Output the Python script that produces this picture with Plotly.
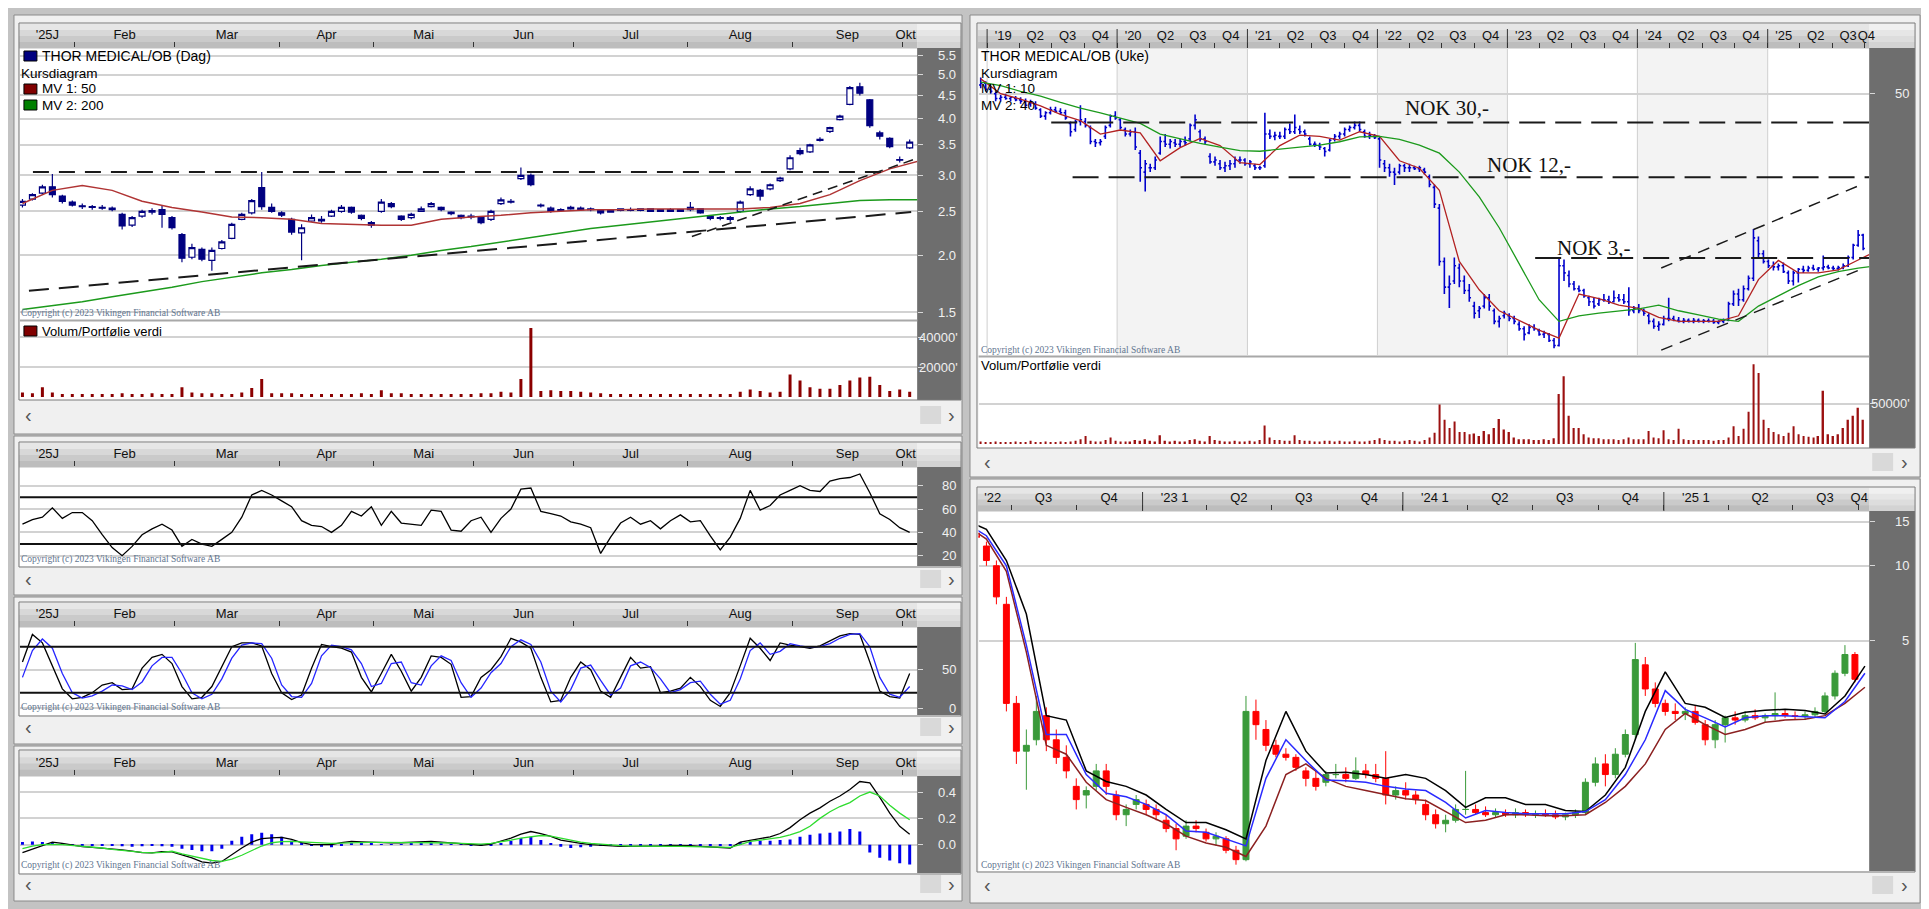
import math
import pandas as pd
import plotly.graph_objects as go

W, H = 1929, 909
SANS = "Liberation Sans"
SERIF = "Liberation Serif"

# ===================== DAILY CHART 2025 (one candle = two trading days) =====================
d_open = [2.58,2.66,2.74,2.83,2.70,2.62,2.57,2.56,2.55,2.54,
          2.46,2.33,2.44,2.49,2.52,2.42,2.22,1.98,2.06,1.95,
          2.07,2.18,2.40,2.48,2.82,2.55,2.48,2.40,2.24,2.38,
          2.40,2.44,2.50,2.55,2.45,2.36,2.50,2.60,2.44,2.42,
          2.50,2.56,2.55,2.49,2.45,2.44,2.42,2.40,2.60,2.62,
          2.95,3.00,2.58,2.54,2.51,2.53,2.54,2.52,2.52,2.49,
          2.51,2.52,2.51,2.53,2.50,2.52,2.50,2.52,2.53,2.44,
          2.42,2.40,2.50,2.72,2.78,2.80,2.92,3.10,3.40,3.38,
          3.58,3.75,3.98,4.30,4.70,4.40,3.72,3.62,3.25,3.45]
d_high = [2.66,2.74,2.86,3.02,2.72,2.64,2.60,2.58,2.58,2.56,
          2.48,2.44,2.52,2.54,2.58,2.44,2.24,2.12,2.08,2.08,
          2.16,2.36,2.48,2.66,3.05,2.60,2.50,2.42,2.34,2.46,
          2.44,2.52,2.58,2.56,2.46,2.38,2.66,2.62,2.45,2.48,
          2.56,2.62,2.56,2.50,2.46,2.47,2.43,2.52,2.68,2.66,
          3.12,3.03,2.60,2.56,2.54,2.57,2.56,2.55,2.53,2.52,
          2.54,2.55,2.54,2.54,2.53,2.54,2.53,2.62,2.54,2.45,
          2.44,2.44,2.64,2.84,2.80,2.88,2.98,3.32,3.45,3.52,
          3.64,3.84,4.08,4.72,4.80,4.42,3.76,3.64,3.30,3.60]
d_low = [2.55,2.64,2.72,2.68,2.60,2.56,2.53,2.52,2.52,2.50,
         2.28,2.31,2.42,2.46,2.30,2.28,1.93,1.96,1.94,1.85,
         2.06,2.17,2.39,2.46,2.52,2.48,2.43,2.22,1.95,2.37,
         2.36,2.43,2.48,2.47,2.39,2.30,2.48,2.54,2.38,2.40,
         2.49,2.55,2.50,2.45,2.40,2.40,2.34,2.38,2.58,2.60,
         2.93,2.84,2.55,2.48,2.50,2.52,2.51,2.50,2.46,2.48,
         2.50,2.50,2.50,2.49,2.49,2.49,2.49,2.50,2.47,2.39,
         2.39,2.37,2.48,2.70,2.64,2.78,2.90,3.08,3.32,3.36,
         3.56,3.72,3.96,4.28,4.50,3.82,3.60,3.44,3.20,3.43]
d_close = [2.63,2.72,2.83,2.72,2.63,2.58,2.56,2.55,2.54,2.52,
           2.32,2.42,2.50,2.51,2.46,2.30,1.97,2.08,1.96,2.05,
           2.14,2.34,2.46,2.64,2.56,2.50,2.45,2.25,2.30,2.42,
           2.38,2.50,2.55,2.49,2.41,2.33,2.62,2.56,2.40,2.46,
           2.53,2.60,2.52,2.47,2.42,2.43,2.36,2.50,2.65,2.63,
           3.00,2.86,2.57,2.50,2.52,2.55,2.52,2.53,2.48,2.51,
           2.53,2.51,2.53,2.50,2.52,2.50,2.52,2.55,2.48,2.41,
           2.41,2.42,2.62,2.80,2.70,2.86,2.96,3.28,3.35,3.50,
           3.60,3.82,4.05,4.68,4.55,3.86,3.66,3.47,3.24,3.55]
d_vol = [3,2.5,6.5,3,2,2,2,2,2,2,
         2.5,2,2,2.5,2,2,6.5,3,2.5,2.5,
         2,2,3,6,12,2.5,2.5,2.5,2,2,
         2,2,2,2,2.5,2,4.5,2.5,2.5,2,
         2,2,2,2,2,2,2.5,2.5,3.5,3,
         12,46,4,4.5,4,4,3.5,3,2.5,2,
         2,2,2,2,2,2,2,2,2,2,
         2,2,3.5,5,4,3,3.5,15,11,6.5,
         5.5,5.5,8,11,13,13.5,8,4,5,3.5]
d_ma50 = [2.60,2.78,2.85,2.78,2.63,2.55,2.49,2.43,2.42,2.40,
          2.35,2.34,2.33,2.33,2.40,2.43,2.45,2.48,2.50,2.52,
          2.52,2.53,2.53,2.53,2.53,2.55,2.60,2.72,2.92,3.10,3.23]
d_ma200 = [1.52,1.55,1.58,1.62,1.66,1.70,1.75,1.79,1.83,1.86,
           1.90,1.93,1.96,2.00,2.05,2.09,2.14,2.19,2.24,2.29,
           2.33,2.37,2.41,2.45,2.49,2.53,2.56,2.60,2.64,2.65,2.65]
d_rsi = [47,51,53,61,52,57,57,50,38,27,
         20,28,38,43,47,42,28,34,30,28,
         34,40,53,72,76,72,67,62,50,46,
         45,40,46,58,54,62,46,58,48,47,
         46,59,58,42,41,50,53,40,52,60,
         77,78,58,56,54,49,47,44,22,36,
         48,53,47,50,43,50,55,49,50,37,
         25,36,52,76,59,63,72,76,80,76,
         75,84,86,87,90,74,56,51,44,40]
d_stoch_k = [60,96,85,55,25,12,14,20,30,33,
             24,25,52,66,70,58,28,12,14,28,
             55,80,85,85,81,45,20,11,17,52,
             83,80,78,73,40,21,45,70,48,22,
             40,68,66,57,14,15,40,50,67,91,
             86,78,40,8,10,40,60,50,22,14,
             40,66,52,54,20,22,26,40,28,10,
             2,20,55,91,78,62,85,82,80,78,
             81,87,94,97,96,60,22,15,13,45]
d_stoch_d = [40,75,90,78,45,20,13,16,22,30,
             29,24,34,55,66,66,45,20,12,18,
             38,65,82,85,84,65,30,15,14,32,
             68,82,80,76,58,28,32,58,60,33,
             30,55,68,62,33,14,26,46,58,80,
             89,83,60,22,8,24,52,56,36,17,
             26,55,60,53,38,20,24,33,35,18,
             5,10,38,75,85,70,74,84,81,79,
             80,84,91,96,97,80,40,18,14,28]
d_macd = [-0.06,-0.035,-0.01,0.02,0.01,-0.005,-0.015,-0.02,-0.025,-0.03,
          -0.04,-0.048,-0.06,-0.062,-0.052,-0.054,-0.075,-0.10,-0.13,-0.14,
          -0.127,-0.075,-0.025,0.02,0.046,0.052,0.056,0.04,0.015,0.0,
          0.0,0.0,0.015,0.025,0.022,0.018,0.016,0.014,0.015,0.018,
          0.022,0.025,0.02,0.015,0.01,0.003,-0.004,0.005,0.025,0.05,
          0.08,0.10,0.085,0.063,0.035,0.02,0.01,0.0,-0.005,-0.012,
          -0.013,-0.013,-0.013,-0.012,-0.01,-0.006,-0.006,-0.008,-0.012,-0.015,
          -0.02,-0.025,0.02,0.035,0.045,0.06,0.085,0.13,0.19,0.24,
          0.28,0.33,0.37,0.42,0.48,0.47,0.36,0.24,0.14,0.08]
d_macd_signal = [-0.03,-0.01,0.0,0.003,0.0,-0.005,-0.01,-0.017,-0.025,-0.035,
                 -0.045,-0.05,-0.058,-0.062,-0.058,-0.05,-0.07,-0.085,-0.105,-0.12,
                 -0.127,-0.11,-0.08,-0.045,-0.01,0.015,0.024,0.025,0.02,0.015,
                 0.01,0.01,0.012,0.015,0.017,0.018,0.018,0.018,0.018,0.018,
                 0.018,0.018,0.016,0.013,0.01,0.007,0.005,0.01,0.02,0.035,
                 0.05,0.062,0.07,0.065,0.05,0.03,0.02,0.01,0.003,-0.003,
                 -0.007,-0.01,-0.012,-0.013,-0.013,-0.013,-0.013,-0.014,-0.015,-0.016,
                 -0.018,-0.02,0.0,0.025,0.035,0.045,0.055,0.075,0.10,0.14,
                 0.20,0.25,0.29,0.32,0.37,0.40,0.37,0.30,0.24,0.19]
d_macd_hist = [0.02,0.025,0.02,0.015,0.01,0.005,-0.005,-0.008,-0.01,-0.01,
               -0.012,-0.015,-0.012,-0.01,-0.012,-0.015,-0.03,-0.04,-0.05,-0.05,
               -0.03,0.03,0.06,0.08,0.09,0.08,0.06,0.03,0.01,-0.01,
               -0.015,-0.02,-0.01,0.01,0.012,0.008,0.005,0.004,0.005,0.006,
               0.008,0.01,0.006,0.003,0.002,-0.004,-0.008,-0.01,0.01,0.03,
               0.05,0.06,0.035,0.01,-0.015,-0.025,-0.02,-0.015,-0.01,-0.008,
               -0.006,-0.005,-0.004,-0.004,-0.004,-0.004,-0.004,-0.004,-0.004,-0.005,
               -0.006,-0.008,0.02,0.025,0.03,0.03,0.035,0.04,0.06,0.075,
               0.085,0.09,0.10,0.12,0.10,-0.06,-0.10,-0.12,-0.14,-0.15]

month_names = ["'25J", "Feb", "Mar", "Apr", "Mai", "Jun", "Jul", "Aug", "Sep", "Okt"]
month_starts = [5.25, 15.25, 25.75, 35.25, 45.25, 55.25, 66.75, 77.25, 88.25]

d_price_ticks = [1.5, 2.0, 2.5, 3.0, 3.5, 4.0, 4.5, 5.0, 5.5]
d_price_labels = ["1.5", "2.0", "2.5", "3.0", "3.5", "4.0", "4.5", "5.0", "5.5"]
d_vol_ticks = [20, 40]
d_vol_labels = ["20000'", "40000'"]
rsi_ticks = [20, 40, 60, 80]
rsi_labels = ["20", "40", "60", "80"]
rsi_levels = [30, 70]
stoch_ticks = [0, 50]
stoch_labels = ["0", "50"]
stoch_levels = [20, 80]
macd_ticks = [0.0, 0.2, 0.4]
macd_labels = ["0.0", "0.2", "0.4"]

trend_resist_x, trend_resist_y = [1.05, 89.75], [3.05, 3.05]
trend_support_x, trend_support_y = [0.65, 89.15], [1.67, 2.49]
trend_steep_x, trend_steep_y = [67.15, 89.75], [2.20, 3.27]

# ===================== WEEKLY DATA (one bar = two weeks, from 2018-12-14) =====================
w_open = [58,60,54,50,46,47,46,46,45,44,
          42,42,38,34,36,38,37,36,30,27,
          31,31,28,22,21.5,24,29,34,32,27,
          25,26,18,13,14,14,18,22,21,21.5,
          21,22,23,29,26,23,17,15.5,15,14,
          14.5,15,16,16,15,14.5,14,14.5,25,24,
          24,24,27,26,27,26,23,21,20.5,19.5,
          19,23,24,25,27,28,29,26,24,24,
          23,15,14,13,13,14.5,14,14,13.8,13.5,
          12,10,7,2.8,1.8,2.0,2.5,2.0,1.7,1.3,
          1.2,1.3,1.5,1.2,1.0,1.1,1.1,1.05,0.95,0.88,
          0.82,0.9,0.85,0.8,0.8,0.72,0.66,2.6,2.2,1.9,
          1.75,1.7,1.5,1.4,1.35,1.45,1.45,1.4,1.5,1.45,
          1.4,1.2,1.25,1.2,1.1,1.0,0.92,0.95,1.05,1.05,
          1.02,1.0,1.02,1.0,1.02,1.0,1.01,1.0,0.98,1.0,
          1.02,1.35,1.6,1.45,1.75,2.1,4.0,3.2,2.8,2.6,
          2.55,2.6,2.3,2.0,2.3,2.45,2.4,2.5,2.45,2.5,
          2.55,2.5,2.48,2.52,2.6,3.0,3.7,4.4]
w_high = [66,62,56,52,49,50,48,48,47,46,
          45,44,39,37,40,40,39,38,31,32,
          41,33,29,23,23,29,35,37,33,28,
          27,28,19,16,15,17,24,25,23,23,
          23,24,30,35,27,24,18,17,16,15.5,
          16,17,17,16.5,16,15,14.5,36,27,26,
          26,28,30,35,29,27,24,22,21.5,20,
          23,25,26,28,29,31,31,27,26,25,
          24,16,15,14,15,15,15,14.5,14.5,14,
          12.5,10.5,7.5,3.0,2.2,3.0,2.7,2.2,1.9,1.4,
          1.3,1.6,1.6,1.25,1.1,1.2,1.15,1.1,1.0,0.92,
          0.95,0.95,0.88,0.85,0.82,0.75,3.0,2.9,2.4,2.0,
          1.85,1.75,1.55,1.5,1.5,1.6,1.55,1.7,1.6,1.6,
          1.8,1.3,1.35,1.25,1.15,1.05,1.0,1.1,1.5,1.1,
          1.08,1.06,1.05,1.06,1.05,1.04,1.05,1.04,1.02,1.05,
          1.4,1.7,1.75,1.85,2.2,4.9,4.3,3.4,2.9,2.8,
          2.7,2.75,2.4,2.4,2.5,2.6,2.6,2.65,2.55,3.1,
          2.65,2.6,2.6,2.7,3.1,3.8,4.8,4.5]
w_low = [55,52,50,44,44,45,44,44,42,40,
         40,38,33,32,35,36,35,32,24,26,
         29,28,21,20,20.5,23,28,32,27,24,
         24,19,11,9.3,13,13.5,17.5,20,19.5,20,
         20,20.5,22,27,22,21,15,14.5,13.5,13,
         13.5,14,15,14.5,14,13.5,13.5,14,23,22.5,
         23,23,25,25,25,24,20.5,20,19,17,
         18.5,22,23,24,26,27,26,23.5,23,23,
         14,13,12,10.4,12.5,13,13,13.5,13,12.5,
         10,7,2.6,1.6,1.26,1.9,1.8,1.6,1.4,1.05,
         1.06,1.25,1.2,0.95,0.9,1.05,1.0,0.95,0.85,0.72,
         0.8,0.85,0.78,0.75,0.7,0.63,0.65,2.0,1.8,1.7,
         1.65,1.5,1.3,1.25,1.3,1.4,1.35,1.38,1.4,1.35,
         1.1,1.15,1.15,1.1,0.95,0.88,0.85,0.93,1.0,1.0,
         0.98,0.97,0.98,0.97,0.98,0.97,0.98,0.96,0.95,0.97,
         1.0,1.3,1.3,1.4,1.7,2.0,3.0,2.7,2.5,2.4,
         2.4,2.3,1.9,1.85,1.95,2.3,2.35,2.4,2.35,2.4,
         2.45,2.42,2.4,2.45,2.55,2.9,3.6,3.4]
w_close = [60,54,52,46,47,46,47,45,44,41,
           43,39,34,36,38,37,36,33,26,31,
           32,29,22,21.5,22,28,34,33,28,25,
           26,20,14,15,14,16,22,21,22,21,
           22,21.5,29,32,23,22,15.5,16,14,14.5,
           15,16,16,15,15.5,14,14,25,24,24.5,
           24,27,26,28,26,25,21,21,20,18.5,
           22.5,24,25,27,28,29,27,24,24.5,23.5,
           16,14,13,12.5,14.5,14,14,13.8,14,13,
           10.5,7.5,2.8,1.8,1.9,2.6,2.0,1.7,1.5,1.15,
           1.25,1.5,1.3,1.0,1.05,1.15,1.05,1.0,0.88,0.8,
           0.9,0.88,0.8,0.82,0.72,0.66,2.6,2.3,1.9,1.75,
           1.7,1.55,1.4,1.3,1.45,1.45,1.4,1.5,1.45,1.4,
           1.2,1.25,1.2,1.15,1.0,0.92,0.95,1.05,1.05,1.02,
           1.0,1.02,1.0,1.02,1.0,1.01,1.0,0.98,1.0,1.02,
           1.35,1.6,1.45,1.75,2.1,4.2,3.2,2.8,2.6,2.55,
           2.6,2.35,2.0,2.3,2.45,2.4,2.5,2.45,2.5,2.55,
           2.5,2.48,2.52,2.6,3.0,3.7,4.4,3.5]
w_vol = [3,2,2,3,2,2,2,3,2,2,
         4,2,2,3,2,2,3,2,3,4,
         6,10,4,3,3,5,8,4,3,3,
         3,5,4,6,4,3,11,4,3,4,
         3,3,5,6,4,3,10,5,4,3,
         3,4,3,3,4,3,5,23,8,5,
         5,4,4,11,5,4,4,3,3,4,
         4,3,4,3,3,4,3,3,4,5,
         7,5,4,4,3,4,5,4,3,5,
         8,14,49,30,20,28,15,15,12,13,
         10,16,12,20,31,18,15,8,6,6,
         6,5,5,6,5,7,62,84,35,20,
         20,12,8,7,7,6,6,6,5,6,
         8,6,6,6,16,8,7,17,6,5,
         19,6,5,5,5,5,5,4,5,5,
         8,22,10,19,40,99,88,30,20,15,
         12,10,14,22,12,10,9,8,10,66,
         12,10,12,20,30,35,45,30]
w_ma10 = [64.5,50,45.5,40.6,35,31.5,25,26.8,25.5,15.8,
          19.8,23.2,20.5,15.3,14.8,20.5,24.5,24,22.5,26,
          24,15.8,13.9,9.5,2.8,1.72,1.2,1.02,0.86,0.75,
          1.6,1.48,1.32,1.25,1.07,1.0,1.0,1.0,1.1,2.05,
          2.85,2.3,2.3,2.42,2.87,3.4]
w_ma40 = [61,57.5,52,48,43,39,36,33,30,25,
          23,21.3,20,18.8,18.6,19.2,20,20.7,21.9,23.8,
          24,22.8,20.7,18,13,8.5,5,2.7,1.45,1.0,
          1.1,1.15,1.2,1.24,1.32,1.2,1.12,1.04,1.0,1.3,
          1.55,1.85,2.15,2.35,2.5,2.6]
nok_levels = [30.5, 11.9, 2.97]
nok_labels = ["NOK 30,-", "NOK 12,-", "NOK 3,-"]
nok_from = ["2019-06-30", "2019-08-29", "2023-03-20"]
nok_to = "2025-10-13"
chan_dates = ["2024-03-08", "2025-09-29"]
chan_upper = [2.5, 10.7]
chan_lower = [0.61, 2.5]
w_q_labels = ["'19","Q2","Q3","Q4","'20","Q2","Q3","Q4","'21","Q2","Q3","Q4",
              "'22","Q2","Q3","Q4","'23","Q2","Q3","Q4","'24","Q2","Q3","Q4",
              "'25","Q2","Q3","Q4"]
w_price_ticks, w_price_labels = [50], ["50"]
w_vol_ticks, w_vol_labels = [50], ["50000'"]

# bottom-right envelope lines (every 4 weeks from 2022-04-29)
br_upper = [15.2,14.0,10.5,6.4,2.5,2.4,1.5,1.36,1.3,1.2,
            1.05,0.93,0.93,0.87,0.8,1.65,2.6,1.8,1.47,1.48,
            1.45,1.4,1.45,1.4,1.25,1.07,1.17,1.17,1.1,1.1,
            1.04,1.03,1.2,1.55,2.6,3.75,2.8,2.7,2.46,2.58,
            2.63,2.65,2.62,2.54,3.0,3.95]
br_mid = [14.8,13.2,10.0,4.8,2.1,2.1,1.45,1.22,1.18,1.1,
          1.0,0.86,0.85,0.8,0.75,1.4,2.0,1.65,1.38,1.37,
          1.35,1.3,1.27,1.25,1.12,0.97,1.04,1.02,1.01,1.01,
          1.01,1.03,1.15,1.45,2.0,3.15,2.65,2.45,2.25,2.45,
          2.5,2.5,2.48,2.45,2.85,3.7]
br_lower = [14.5,12.8,9.5,4.5,1.9,1.75,1.35,1.15,1.07,1.0,
            0.92,0.82,0.77,0.74,0.68,0.9,1.45,1.6,1.4,1.3,
            1.25,1.2,1.16,1.14,1.03,0.93,0.95,1.0,1.0,0.99,
            0.99,1.0,1.12,1.3,1.6,2.2,2.55,2.3,2.1,2.2,
            2.35,2.4,2.42,2.5,2.8,3.25]
br_q_labels = ["'22","Q3","Q4","'23 1","Q2","Q3","Q4","'24 1","Q2","Q3","Q4","'25 1","Q2","Q3","Q4"]
br_ticks, br_labels = [5, 10, 15], ["5", "10", "15"]
BR_START = 88  # first weekly bar shown in the bottom-right chart

# ===================== helpers =====================
def fx(p): return p / W
def fy(p): return 1 - p / H
def ydom(top, bot): return [fy(bot), fy(top)]

kx = list(range(len(d_close)))
ma_x = [3 * i for i in range(len(d_ma50))]
wd = pd.date_range("2018-12-14", periods=len(w_close), freq="14D")
wma_x = pd.date_range("2018-12-14", periods=len(w_ma10), freq="56D")
br_x = pd.date_range(wd[BR_START], periods=len(br_mid), freq="28D")

edges = [-0.25] + month_starts + [89.75]
month_mid = [(edges[i] + edges[i + 1]) / 2 for i in range(len(edges) - 1)]
month_mid[-1] = 88.6

w_q_pos, w_q_minor = [], []
for y in range(2019, 2026):
    for q in range(4):
        st = pd.Timestamp(y, 3 * q + 1, 1)
        w_q_minor.append(st)
        w_q_pos.append(st + pd.Timedelta(days=45))
w_q_pos[-1] = pd.Timestamp(2025, 10, 5)

br_q_pos = [pd.Timestamp(2022, 6, 5)]
br_q_minor = []
for y in range(2022, 2026):
    for q in range(4):
        st = pd.Timestamp(y, 3 * q + 1, 1)
        if st < pd.Timestamp(2022, 7, 1) or st > pd.Timestamp(2025, 10, 1):
            continue
        br_q_minor.append(st)
        br_q_pos.append(st + pd.Timedelta(days=45))
br_q_pos[-1] = pd.Timestamp(2025, 10, 2)

NAVY = "#000080"
traces = []
# ---- daily price
traces.append(go.Candlestick(x=kx, open=d_open, high=d_high, low=d_low, close=d_close,
    increasing=dict(line=dict(color=NAVY, width=1.2), fillcolor="#ffffff"),
    decreasing=dict(line=dict(color=NAVY, width=1.2), fillcolor=NAVY),
    xaxis="x", yaxis="y"))
traces.append(go.Scatter(x=ma_x, y=d_ma50, mode="lines", line=dict(color="#b03434", width=1.5), xaxis="x", yaxis="y"))
traces.append(go.Scatter(x=ma_x, y=d_ma200, mode="lines", line=dict(color="#1c9a1c", width=1.5), xaxis="x", yaxis="y"))
traces.append(go.Scatter(x=trend_resist_x, y=trend_resist_y, mode="lines", line=dict(color="#1a1a1a", width=2, dash="16px,10px"), xaxis="x", yaxis="y"))
traces.append(go.Scatter(x=trend_support_x, y=trend_support_y, mode="lines", line=dict(color="#1a1a1a", width=2, dash="20px,10px"), xaxis="x", yaxis="y"))
traces.append(go.Scatter(x=trend_steep_x, y=trend_steep_y, mode="lines", line=dict(color="#1a1a1a", width=1.5, dash="10px,6px"), xaxis="x", yaxis="y"))
# ---- daily volume
traces.append(go.Bar(x=kx, y=d_vol, width=0.3, marker=dict(color="#8b0000", line=dict(width=0)), xaxis="x2", yaxis="y2"))
# ---- RSI
traces.append(go.Scatter(x=kx, y=d_rsi, mode="lines", line=dict(color="#000", width=1.3), xaxis="x3", yaxis="y3"))
# ---- Stochastic
traces.append(go.Scatter(x=kx, y=d_stoch_k, mode="lines", line=dict(color="#000", width=1.3), xaxis="x4", yaxis="y4"))
traces.append(go.Scatter(x=kx, y=d_stoch_d, mode="lines", line=dict(color="#2626ff", width=1.3), xaxis="x4", yaxis="y4"))
# ---- MACD
traces.append(go.Bar(x=kx, y=d_macd_hist, width=0.3, marker=dict(color="#0000ee", line=dict(width=0)), xaxis="x5", yaxis="y5"))
traces.append(go.Scatter(x=kx, y=d_macd, mode="lines", line=dict(color="#000", width=1.3), xaxis="x5", yaxis="y5"))
traces.append(go.Scatter(x=kx, y=d_macd_signal, mode="lines", line=dict(color="#2edc2e", width=1.3), xaxis="x5", yaxis="y5"))
# ---- weekly price
traces.append(go.Ohlc(x=wd, open=w_open, high=w_high, low=w_low, close=w_close, tickwidth=0.35,
    increasing=dict(line=dict(color="#0000cc", width=1.6)), decreasing=dict(line=dict(color="#0000cc", width=1.6)),
    xaxis="x6", yaxis="y6"))
traces.append(go.Scatter(x=wma_x, y=w_ma10, mode="lines", line=dict(color="#b22222", width=1.3), xaxis="x6", yaxis="y6"))
traces.append(go.Scatter(x=wma_x, y=w_ma40, mode="lines", line=dict(color="#1c9a1c", width=1.3), xaxis="x6", yaxis="y6"))
for lv, st in zip(nok_levels, nok_from):
    traces.append(go.Scatter(x=[st, nok_to], y=[lv, lv], mode="lines", line=dict(color="#1a1a1a", width=2, dash="26px,10px"), xaxis="x6", yaxis="y6"))
traces.append(go.Scatter(x=chan_dates, y=chan_upper, mode="lines", line=dict(color="#1a1a1a", width=1.5, dash="12px,8px"), xaxis="x6", yaxis="y6"))
traces.append(go.Scatter(x=chan_dates, y=chan_lower, mode="lines", line=dict(color="#1a1a1a", width=1.5, dash="12px,8px"), xaxis="x6", yaxis="y6"))
# ---- weekly volume
traces.append(go.Bar(x=wd, y=w_vol, width=4 * 86400000, marker=dict(color="#9b1010", line=dict(width=0)), xaxis="x7", yaxis="y7"))
# ---- bottom-right candles + envelope
traces.append(go.Candlestick(x=wd[BR_START:], open=w_open[BR_START:], high=w_high[BR_START:], low=w_low[BR_START:], close=w_close[BR_START:],
    increasing=dict(line=dict(color="#3a9a3a", width=1), fillcolor="#3a9a3a"),
    decreasing=dict(line=dict(color="#ff0000", width=1), fillcolor="#ff0000"),
    xaxis="x8", yaxis="y8"))
traces.append(go.Scatter(x=br_x, y=br_lower, mode="lines", line=dict(color="#8b2020", width=1.5), xaxis="x8", yaxis="y8"))
traces.append(go.Scatter(x=br_x, y=br_upper, mode="lines", line=dict(color="#000", width=1.5), xaxis="x8", yaxis="y8"))
traces.append(go.Scatter(x=br_x, y=br_mid, mode="lines", line=dict(color="#2a2aff", width=1.5), xaxis="x8", yaxis="y8"))

for t in traces:
    t.update(showlegend=False, hoverinfo="skip")

# ===================== axes =====================
LXD = [fx(12), fx(912)]
RXD = [fx(973.6), fx(1867)]

def top_axis(dom, anchor, rng, vals, text, minor_vals, typ="linear", matches=None):
    ax = dict(domain=dom, anchor=anchor, range=rng, type=typ, side="top", tickmode="array",
              tickvals=vals, ticktext=text, ticks="", tickangle=0, ticklabelstandoff=5,
              tickfont=dict(family=SANS, size=13, color="#111"),
              showgrid=False, zeroline=False, showline=False, fixedrange=True,
              minor=dict(tickmode="array", tickvals=minor_vals, ticks="outside", ticklen=5,
                         tickwidth=1, tickcolor="#333", showgrid=False),
              rangeslider=dict(visible=False))
    if matches:
        ax["matches"] = matches
    return ax

def right_axis(dom, anchor, rng, vals, typ="linear"):
    return dict(domain=dom, anchor=anchor, range=rng, type=typ, side="right", tickmode="array",
                tickvals=vals, showticklabels=False, ticks="outside", ticklen=5, tickwidth=1,
                tickcolor="#d8d8d8", showgrid=True, gridcolor="#d2d2d2", gridwidth=2,
                zeroline=False, showline=False, fixedrange=True)

axes = dict(
    xaxis=top_axis(LXD, "y", [-0.25, 89.75], month_mid, month_names, month_starts),
    xaxis2=dict(domain=LXD, anchor="y2", matches="x", visible=False, fixedrange=True),
    xaxis3=top_axis(LXD, "y3", [-0.25, 89.75], month_mid, month_names, month_starts, matches="x"),
    xaxis4=top_axis(LXD, "y4", [-0.25, 89.75], month_mid, month_names, month_starts, matches="x"),
    xaxis5=top_axis(LXD, "y5", [-0.25, 89.75], month_mid, month_names, month_starts, matches="x"),
    xaxis6=top_axis(RXD, "y6", ["2018-12-08", "2025-10-13"], w_q_pos, w_q_labels, w_q_minor, typ="date"),
    xaxis7=dict(domain=RXD, anchor="y7", matches="x6", type="date", visible=False, fixedrange=True),
    xaxis8=top_axis(RXD, "y8", ["2022-05-16", "2025-10-16"], br_q_pos, br_q_labels, br_q_minor, typ="date"),
    yaxis=right_axis(ydom(40, 312), "x", [0.1585, 0.7576], d_price_ticks, "log"),
    yaxis2=right_axis(ydom(313, 389), "x2", [0, 50.7], d_vol_ticks),
    yaxis3=right_axis(ydom(459, 558), "x3", [11.2, 96.0], rsi_ticks),
    yaxis4=right_axis(ydom(619, 707), "x4", [-9.1, 105.7], stoch_ticks),
    yaxis5=right_axis(ydom(768, 865), "x5", [-0.215, 0.522], macd_ticks),
    yaxis6=right_axis(ydom(41, 347), "x6", [-0.251, 2.0326], w_price_ticks, "log"),
    yaxis7=right_axis(ydom(350, 437), "x7", [-1.24, 106.7], w_vol_ticks),
    yaxis8=right_axis(ydom(503, 863), "x8", [-0.226, 1.2199], br_ticks, "log"),
)

# ===================== shapes =====================
shapes = []
def prect(x0, y0, x1, y1, fill, line=None, lw=0, layer="below"):
    shapes.append(dict(type="rect", xref="paper", yref="paper", x0=fx(x0), x1=fx(x1), y0=fy(y1), y1=fy(y0),
                       fillcolor=fill, line=dict(color=line if line else fill, width=lw), layer=layer))
def pline(x0, y0, x1, y1, color, w, layer="above"):
    shapes.append(dict(type="line", xref="paper", yref="paper", x0=fx(x0), x1=fx(x1), y0=fy(y0), y1=fy(y1),
                       line=dict(color=color, width=w), layer=layer))

left_panels = [(7, 426), (428, 587), (589, 736), (738, 893)]
right_panels = [(7, 469), (471, 895)]
for t, b in left_panels:
    prect(6, t, 957, b, "#f0f0f0", "#8a8a8a", 1)
for t, b in right_panels:
    prect(965, t, 1918, b, "#f0f0f0", "#8a8a8a", 1)

# white chart areas
for x0, y0, x1, y1 in [(12, 40, 912, 392), (12, 459, 912, 558), (12, 619, 912, 707), (12, 768, 912, 865),
                       (973.6, 40, 1867, 440), (973.6, 503, 1867, 863)]:
    prect(x0, y0, x1, y1, "#ffffff")

def header(x0, xb, x1, t, b):
    g1 = ["#e6e6e6", "#d8d8d8", "#cacaca", "#bdbdbd"]
    g2 = ["#f0f0f0", "#e6e6e6", "#dddddd", "#d3d3d3"]
    h = (b - t) / 4.0
    for i in range(4):
        prect(x0, t + i * h, xb, t + (i + 1) * h + 0.5, g1[i])
        prect(xb, t + i * h, x1, t + (i + 1) * h + 0.5, g2[i])

for t, b in [(16, 40), (435, 459), (595, 619), (743, 768)]:
    header(11, 912, 956, t, b)
for t, b in [(16, 40), (480, 503)]:
    header(973, 1867, 1913, t, b)

BAND = "#6e6e6e"
for t, b in [(40, 392), (459, 558), (619, 707), (768, 865)]:
    prect(912, t, 956, b, BAND)
for t, b in [(40, 440), (503, 863)]:
    prect(1867, t, 1913, b, BAND)

# scrollbar thumbs
for c in [407, 571, 719, 876]:
    prect(915, c - 9, 936, c + 9, "#d9d9d9")
for c in [454, 877]:
    prect(1870, c - 9, 1891, c + 9, "#d9d9d9")

# weekly: alternating year shading and year lines
for yr in [2020, 2022, 2024]:
    shapes.append(dict(type="rect", xref="x6", yref="y6 domain", x0=f"{yr}-01-01", x1=f"{yr + 1}-01-01",
                       y0=0, y1=1, fillcolor="#f3f3f3", line=dict(width=0), layer="below"))
for yr in range(2019, 2026):
    shapes.append(dict(type="line", xref="x6", yref="y6 domain", x0=f"{yr}-01-01", x1=f"{yr}-01-01",
                       y0=0, y1=1, line=dict(color="#cfcfcf", width=1), layer="below"))
    shapes.append(dict(type="line", xref="x6", yref="paper", x0=f"{yr}-01-01", x1=f"{yr}-01-01",
                       y0=fy(40), y1=fy(21), line=dict(color="#333", width=1), layer="above"))
for yr in [2023, 2024, 2025]:
    shapes.append(dict(type="line", xref="x8", yref="paper", x0=f"{yr}-01-01", x1=f"{yr}-01-01",
                       y0=fy(503), y1=fy(484), line=dict(color="#333", width=1), layer="above"))

# RSI / stochastic reference levels
for v in rsi_levels:
    shapes.append(dict(type="line", xref="x3 domain", yref="y3", x0=0, x1=1, y0=v, y1=v,
                       line=dict(color="#111", width=2), layer="above"))
for v in stoch_levels:
    shapes.append(dict(type="line", xref="x4 domain", yref="y4", x0=0, x1=1, y0=v, y1=v,
                       line=dict(color="#111", width=2), layer="above"))

# separators and outlines
pline(12, 312.5, 912, 312.5, "#a8a8a8", 2)
pline(973.6, 348.5, 1867, 348.5, "#a8a8a8", 2)
for x0, y0, x1, y1 in [(11, 15, 956, 392), (11, 434, 956, 559), (11, 594, 956, 708), (11, 742, 956, 866),
                       (972, 15, 1913, 440), (972, 479, 1913, 864)]:
    prect(x0, y0, x1, y1, "rgba(0,0,0,0)", "#7a7a7a", 1, layer="above")

# legend squares
for (y0, col) in [(43, NAVY), (76, "#800000"), (92, "#008000"), (318, "#800000")]:
    prect(16, y0, 29, y0 + 10, col, "#000", 1, layer="above")

# ===================== annotations =====================
ann = []
def ptext(x, y, text, size=13.5, family=SANS, color="#000", xanchor="left"):
    ann.append(dict(xref="paper", yref="paper", x=fx(x), y=fy(y), text=text, showarrow=False,
                    xanchor=xanchor, yanchor="middle", font=dict(family=family, size=size, color=color)))

ptext(32, 48, "THOR MEDICAL/OB (Dag)", size=14)
ptext(11, 65, "Kursdiagram")
ptext(32, 81, "MV 1: 50")
ptext(32, 97, "MV 2: 200")
ptext(32, 323, "Volum/Portfølie verdi", size=13)
ptext(974, 48, "THOR MEDICAL/OB (Uke)", size=14)
ptext(974, 65, "Kursdiagram")
ptext(974, 81, "MV 1: 10")
ptext(974, 97, "MV 2: 40")
ptext(974, 358, "Volum/Portfølie verdi", size=13)

COPY = "Copyright (c) 2023 Vikingen Financial Software AB"
for x, y in [(11, 305), (11, 551), (11, 699), (11, 857), (974, 342), (974, 857)]:
    ptext(x, y, COPY, size=9.5, family=SERIF, color="#5f7590")

for (lbl, x, y) in zip(nok_labels, [1443, 1526, 1591], [100, 157, 240]):
    ptext(x, y, lbl, size=21, family=SERIF, color="#111", xanchor="center")

for c in [407, 571, 719, 876]:
    ptext(21, c, "‹", size=20, color="#555", xanchor="center")
    ptext(946, c, "›", size=20, color="#555", xanchor="center")
for c in [454, 877]:
    ptext(983, c, "‹", size=20, color="#555", xanchor="center")
    ptext(1902, c, "›", size=20, color="#555", xanchor="center")

def band_labels(yref, vals, texts, xr, log=False):
    for v, t in zip(vals, texts):
        ann.append(dict(xref="paper", x=fx(xr), xanchor="right", yref=yref,
                        y=math.log10(v) if log else v, yanchor="middle", text=t, showarrow=False,
                        font=dict(family=SANS, size=13, color="#f0f0f0")))

band_labels("y", d_price_ticks, d_price_labels, 953, log=True)
band_labels("y2", d_vol_ticks, d_vol_labels, 955)
band_labels("y3", rsi_ticks, rsi_labels, 953)
band_labels("y4", stoch_ticks, stoch_labels, 953)
band_labels("y5", macd_ticks, macd_labels, 953)
band_labels("y6", w_price_ticks, w_price_labels, 1909, log=True)
band_labels("y7", w_vol_ticks, w_vol_labels, 1910)
band_labels("y8", br_ticks, br_labels, 1909, log=True)

fig = go.Figure(data=traces)
fig.update_layout(width=W, height=H, margin=dict(l=0, r=0, t=0, b=0),
                  paper_bgcolor="#c3c3c3", plot_bgcolor="#ffffff", showlegend=False,
                  boxgap=0.15, hovermode=False, shapes=shapes, annotations=ann, **axes)
fig.write_html("out.html", config={"displayModeBar": False})
